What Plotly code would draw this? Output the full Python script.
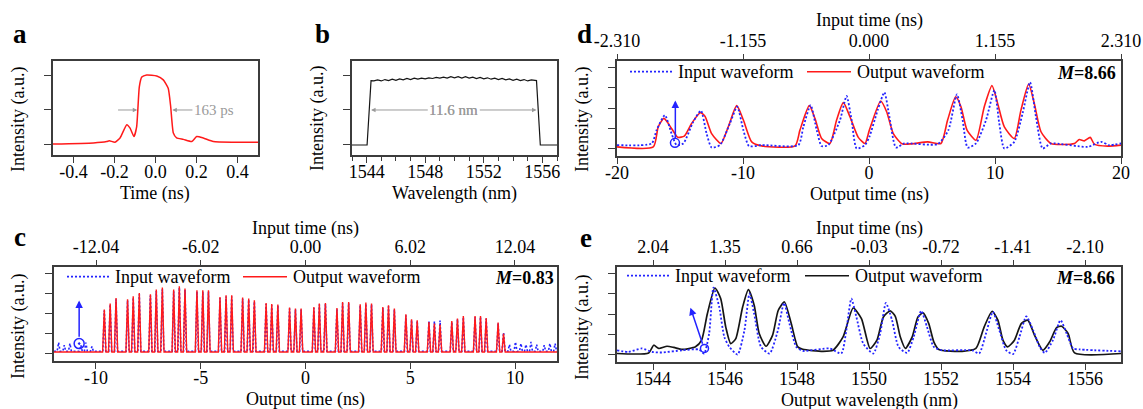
import plotly.graph_objects as go

W, H = 1143, 409
FONT = "Liberation Serif"
RED = "#ff1a1a"
BLUE = "#2323ff"
BLACK = "#151515"
FRAME = "#3c3c3c"
GRAY = "#9a9a9a"

# ---------------- data: panel a (output pulse) ----------------
a_time = [-0.5, -0.303, -0.238, -0.225, -0.198, -0.173, -0.14, -0.124, -0.105, -0.092,
          -0.079, -0.067, -0.043, 0.006, 0.038, 0.062, 0.074, 0.087, 0.103, 0.136,
          0.177, 0.201, 0.233, 0.282, 0.38, 0.5]
a_int = [0.014, 0.03, 0.05, 0.06, 0.04, 0.10, 0.29, 0.24, 0.12, 0.26,
         0.83, 0.97, 1.0, 0.986, 0.93, 0.81, 0.55, 0.17, 0.10, 0.08,
         0.05, 0.12, 0.10, 0.05, 0.04, 0.04]
a_xticks = [-0.4, -0.2, 0.0, 0.2, 0.4]
a_xlabels = ["-0.4", "-0.2", "0.0", "0.2", "0.4"]
a_fwhm_edges = [-0.089, 0.082]
a_fwhm_label = "163 ps"

# ---------------- data: panel b (spectrum) ----------------
b_wl = [1543.0, 1544.03, 1544.3,
        1544.5, 1544.75, 1545.0, 1545.25, 1545.5, 1545.75, 1546.0, 1546.25, 1546.5, 1546.75,
        1547.0, 1547.25, 1547.5, 1547.75, 1548.0, 1548.25, 1548.5, 1548.75, 1549.0, 1549.25,
        1549.5, 1549.75, 1550.0, 1550.25, 1550.5, 1550.75, 1551.0, 1551.25, 1551.5, 1551.75,
        1552.0, 1552.25, 1552.5, 1552.75, 1553.0, 1553.25, 1553.5, 1553.75, 1554.0, 1554.25,
        1554.5, 1554.75, 1555.0, 1555.25,
        1555.6, 1555.86, 1557.0]
b_int = [0.0, 0.0, 0.92,
         0.915, 0.93, 0.915, 0.935, 0.92, 0.94, 0.925, 0.945, 0.93, 0.95,
         0.935, 0.955, 0.94, 0.955, 0.945, 0.96, 0.95, 0.965, 0.955, 0.97,
         0.955, 0.975, 0.96, 0.975, 0.955, 0.975, 0.955, 0.97, 0.95, 0.965,
         0.945, 0.96, 0.94, 0.955, 0.935, 0.95, 0.93, 0.945, 0.925, 0.94,
         0.92, 0.935, 0.915, 0.93,
         0.92, 0.0, 0.0]
b_span = [1544.3, 1555.6]
b_span_label = "11.6 nm"

# ---------------- data: panel c (M = 0.83) ----------------
c_M = 0.83
c_out_peak_t = [-9.60, -9.32, -9.04, -8.49, -8.22, -7.93, -7.40, -7.12, -6.83, -6.29,
                -6.02, -5.75, -5.18, -4.90, -4.63, -4.08, -3.79, -3.52, -3.00, -2.71,
                -2.44, -1.88, -1.61, -1.32, -0.76, -0.48, -0.21, 0.40, 0.66, 0.95,
                1.50, 1.77, 2.06, 2.61, 2.88, 3.15, 3.69, 3.96, 4.24, 4.79,
                5.06, 5.33, 5.89, 6.15, 6.42, 6.98, 7.25, 7.53, 8.09, 8.35,
                8.62, 9.19, 9.45]
c_out_peak_v = [2.20, 2.50, 2.78, 2.72, 2.87, 3.03, 2.97, 3.20, 3.30, 3.20,
                3.37, 3.25, 3.17, 3.17, 3.17, 2.83, 2.92, 2.92, 2.80, 2.75,
                2.67, 2.53, 2.48, 2.45, 2.30, 2.25, 2.25, 2.33, 2.50, 2.53,
                2.28, 2.58, 2.58, 2.47, 2.55, 2.50, 2.33, 2.42, 2.25, 1.97,
                1.72, 1.67, 1.58, 1.50, 1.45, 1.63, 1.75, 1.88, 1.88, 1.88,
                1.78, 1.55, 1.00]
c_out_base = 0.08
c_in_peak_t = [-11.78, -11.51, -11.24, -10.72, -10.48, -10.19,
               -9.60, -9.32, -9.04, -8.49, -8.22, -7.93, -7.40, -7.12, -6.83, -6.29,
               -6.02, -5.75, -5.18, -4.90, -4.63, -4.08, -3.79, -3.52, -3.00, -2.71,
               -2.44, -1.88, -1.61, -1.32, -0.76, -0.48, -0.21, 0.40, 0.66, 0.95,
               1.50, 1.77, 2.06, 2.61, 2.88, 3.15, 3.69, 3.96, 4.24, 4.79,
               5.06, 5.33, 5.89, 6.15, 6.42, 6.98, 7.25, 7.53, 8.09, 8.35,
               8.62, 9.19, 9.45,
               9.73, 10.02, 10.28, 10.52, 10.76, 11.03, 11.39, 11.66, 11.91]
c_in_peak_v = [0.55, 0.42, 0.50, 0.42, 0.55, 0.35,
               2.15, 2.45, 2.72, 2.66, 2.80, 2.97, 2.90, 3.13, 3.22, 3.12,
               3.30, 3.18, 3.10, 3.10, 3.10, 2.78, 2.86, 2.86, 2.74, 2.70,
               2.60, 2.48, 2.42, 2.40, 2.25, 2.20, 2.20, 2.28, 2.45, 2.48,
               2.22, 2.52, 2.52, 2.42, 2.50, 2.45, 2.28, 2.36, 2.20, 1.92,
               1.68, 1.63, 1.62, 1.62, 1.65, 1.58, 1.72, 1.82, 1.83, 1.83,
               1.74, 1.52, 1.05,
               0.45, 0.58, 0.50, 0.45, 0.58, 0.45, 0.42, 0.50, 0.50]
c_in_base = 0.12
c_xticks = [-10, -5, 0, 5, 10]
c_xlabels = ["-10", "-5", "0", "5", "10"]
c_top_ticks = [-12.04, -6.02, 0.0, 6.02, 12.04]
c_top_labels = ["-12.04", "-6.02", "0.00", "6.02", "12.04"]
c_marker = [-10.8, 0.5]
c_arrow = [-10.8, 0.77, 2.66]

# ---------------- data: panel d (M = 8.66, time) ----------------
d_M = 8.66
d_out_t = [-20.0, -17.12, -16.73, -16.28, -15.93, -15.27, -15.14, -14.66, -14.08, -13.39,
           -13.02, -12.49, -11.75, -11.17, -10.50, -9.97, -9.31, -8.52, -5.87, -5.48,
           -4.74, -4.29, -3.76, -3.10, -2.57, -2.04, -1.51, -0.85, -0.32, 0.03,
           0.93, 1.40, 1.93, 2.67, 4.66, 5.71, 6.24, 6.88, 7.30, 7.78,
           8.49, 9.15, 9.76, 10.21, 10.74, 11.53, 12.06, 12.67, 13.12, 13.65,
           14.44, 16.30, 16.69, 17.09, 17.56, 17.88, 18.94, 20.0]
d_out_v = [0.08, 0.08, 1.07, 1.49, 1.24, 0.61, 0.55, 0.61, 1.24, 1.77,
           1.60, 0.74, 0.25, 1.07, 2.12, 1.41, 0.33, 0.13, 0.13, 0.91,
           2.12, 1.49, 0.50, 0.25, 1.41, 2.27, 1.57, 0.55, 0.25, 0.91,
           2.35, 1.82, 0.74, 0.22, 0.33, 0.25, 1.41, 2.56, 2.07, 0.91,
           0.41, 2.07, 3.11, 2.23, 1.07, 0.50, 1.90, 3.19, 2.23, 0.83,
           0.25, 0.25, 0.45, 0.38, 0.55, 0.22, 0.12, 0.17]
d_in_t = [-20.0, -17.25, -16.86, -16.20, -15.67, -15.27, -14.74, -13.95, -13.34, -12.89,
          -12.49, -11.83, -11.04, -10.46, -9.97, -9.52, -8.52, -5.61, -5.21, -4.63,
          -4.15, -3.76, -3.23, -2.30, -1.78, -1.38, -0.98, -0.32, 0.03, 0.69,
          1.22, 1.62, 2.14, 2.80, 5.45, 6.30, 6.98, 7.43, 7.83, 8.49,
          9.29, 9.95, 10.34, 10.74, 11.53, 12.19, 12.78, 13.25, 13.78, 14.44,
          17.35, 18.41, 19.07, 20.0]
d_in_v = [0.17, 0.25, 0.91, 1.65, 0.74, 0.17, 0.25, 1.32, 1.87, 0.74,
          0.05, 0.17, 1.24, 2.07, 0.91, 0.12, 0.17, 0.17, 1.07, 2.15,
          0.91, 0.12, 0.17, 1.41, 2.60, 1.41, 0.00, 0.17, 0.58, 1.90,
          2.78, 1.57, 0.05, 0.25, 0.22, 0.91, 2.68, 1.41, 0.05, 0.25,
          1.41, 2.89, 1.24, 0.00, 0.33, 1.74, 3.28, 1.57, 0.00, 0.25,
          0.08, 0.33, 0.17, 0.25]
d_xticks = [-20, -10, 0, 10, 20]
d_xlabels = ["-20", "-10", "0", "10", "20"]
d_top_ticks = [-2.310, -1.155, 0.0, 1.155, 2.310]
d_top_labels = ["-2.310", "-1.155", "0.000", "1.155", "2.310"]
d_marker = [-15.4, 0.28]
d_arrow = [-15.37, 0.45, 2.38]

# ---------------- data: panel e (M = 8.66, wavelength) ----------------
e_out_wl = [1543.0, 1543.88, 1544.02, 1544.16, 1544.39, 1544.58, 1544.81, 1545.18, 1545.35, 1545.51,
            1545.72, 1545.88, 1546.02, 1546.16, 1546.30, 1546.49, 1546.65, 1546.81, 1546.95, 1547.14,
            1547.32, 1547.48, 1547.65, 1547.84, 1548.02, 1548.16, 1548.72, 1549.00, 1549.28, 1549.56,
            1549.79, 1550.03, 1550.22, 1550.40, 1550.59, 1550.73, 1550.87, 1551.01, 1551.20, 1551.36,
            1551.50, 1551.66, 1551.80, 1551.94, 1552.59, 1552.97, 1553.20, 1553.42, 1553.58, 1553.72,
            1553.85, 1554.04, 1554.23, 1554.41, 1554.60, 1554.83, 1555.02, 1555.21, 1555.35, 1555.53,
            1555.71, 1557.0]
e_out_v = [0.05, 0.08, 0.46, 0.30, 0.41, 0.35, 0.25, 0.38, 0.71, 2.02,
           3.29, 2.77, 1.37, 0.54, 0.79, 2.35, 3.21, 2.44, 1.04, 0.41,
           0.95, 2.19, 2.60, 1.53, 0.38, 0.26, 0.16, 0.21, 0.87, 2.30,
           1.78, 0.30, 0.71, 1.86, 2.16, 1.89, 0.87, 0.30, 0.87, 1.86,
           2.06, 1.53, 0.63, 0.25, 0.16, 0.30, 1.37, 2.14, 1.70, 0.71,
           0.38, 0.71, 1.53, 1.70, 0.95, 0.21, 0.63, 1.33, 1.40, 1.04,
           0.08, 0.05]
e_in_wl = [1543.0, 1543.32, 1543.69, 1543.97, 1544.25, 1544.81, 1545.28, 1545.42, 1545.56, 1545.68,
           1545.84, 1545.98, 1546.12, 1546.35, 1546.54, 1546.68, 1546.81, 1547.00, 1547.24, 1547.47,
           1547.64, 1547.79, 1547.98, 1548.16, 1548.91, 1549.23, 1549.37, 1549.51, 1549.65, 1549.84,
           1550.12, 1550.31, 1550.47, 1550.64, 1550.82, 1551.06, 1551.24, 1551.45, 1551.61, 1551.80,
           1552.03, 1552.87, 1553.06, 1553.25, 1553.44, 1553.62, 1553.81, 1554.00, 1554.18, 1554.37,
           1554.56, 1554.74, 1554.88, 1555.11, 1555.32, 1555.49, 1555.67, 1555.86, 1557.0]
e_in_v = [0.21, 0.13, 0.30, 0.13, 0.10, 0.21, 0.25, 0.05, 1.04, 3.31,
          2.35, 0.87, 0.38, 0.00, 1.20, 3.01, 2.02, 0.38, 0.05, 1.20,
          2.55, 1.53, 0.38, 0.18, 0.30, 0.05, 1.20, 2.77, 1.86, 0.54,
          0.05, 1.04, 2.55, 1.70, 0.38, 0.08, 0.87, 2.16, 1.37, 0.38,
          0.21, 0.21, 0.05, 1.04, 2.11, 1.20, 0.21, 0.02, 0.87, 1.89,
          1.20, 0.38, 0.08, 0.71, 1.70, 1.04, 0.30, 0.25, 0.16]
e_xticks = [1544, 1546, 1548, 1550, 1552, 1554, 1556]
e_top_labels = ["2.04", "1.35", "0.66", "-0.03", "-0.72", "-1.41", "-2.10"]
e_marker = [1545.43, 0.3]
e_arrow = [1545.39, 0.46, 1545.04, 2.32]

legend_labels = ["Input waveform", "Output waveform"]
wave_yticks = [0, 1, 2, 3, 4]
ab_yticks = [0, 0.5, 1.0]

DOT = "2px,2px"


# ---------------- helpers ----------------
def spikes(times, heights, base, lo, hi, hw=0.08):
    xs, ys = [lo], [base]
    for t, h in zip(times, heights):
        xs += [t - hw, t, t + hw]
        ys += [base, h, base]
    xs.append(hi)
    ys.append(base)
    return xs, ys


def px(p):
    return p / W


def py(p):
    return 1 - p / H


fig = go.Figure()


def add_line(x, y, xa, ya, color, width, dash="solid", shape="linear", smoothing=None):
    line = dict(color=color, width=width, dash=dash, shape=shape)
    if smoothing is not None:
        line["smoothing"] = smoothing
    fig.add_trace(go.Scatter(x=x, y=y, xaxis=xa, yaxis=ya, mode="lines", line=line,
                             showlegend=False, hoverinfo="skip"))


def add_marker(pt, xa, ya, symbol, size):
    fig.add_trace(go.Scatter(x=[pt[0]], y=[pt[1]], xaxis=xa, yaxis=ya, mode="markers",
                             marker=dict(symbol=symbol, size=size, color=BLUE,
                                         line=dict(color=BLUE, width=1.5)),
                             showlegend=False, hoverinfo="skip"))


# panel a
add_line(a_time, a_int, "x", "y", RED, 1.5, shape="spline", smoothing=0.5)
# panel b
add_line(b_wl, b_int, "x2", "y2", BLACK, 1.2)
# panel d
add_line(d_out_t, d_out_v, "x3", "y3", RED, 1.6, shape="spline", smoothing=0.6)
add_line(d_in_t, d_in_v, "x3", "y3", BLUE, 1.8, dash=DOT, shape="spline", smoothing=0.6)
add_marker(d_marker, "x3", "y3", "circle-open", 9)
fig.add_trace(go.Scatter(x=[d_top_ticks[0], d_top_ticks[-1]], y=[None, None], xaxis="x4", yaxis="y3",
                         mode="lines", showlegend=False, hoverinfo="skip"))
# panel c
cx2, cy2 = spikes(c_in_peak_t, c_in_peak_v, c_in_base, -12, 12, hw=0.07)
add_line(cx2, cy2, "x5", "y5", BLUE, 1.6, dash=DOT)
cx, cy = spikes(c_out_peak_t, c_out_peak_v, c_out_base, -12, 12)
add_line(cx, cy, "x5", "y5", RED, 1.4)
add_marker(c_marker, "x5", "y5", "circle-open-dot", 10)
fig.add_trace(go.Scatter(x=[-12 / c_M, 12 / c_M], y=[None, None], xaxis="x6", yaxis="y5",
                         mode="lines", showlegend=False, hoverinfo="skip"))
# panel e
add_line(e_out_wl, e_out_v, "x7", "y7", BLACK, 1.7, shape="spline", smoothing=0.6)
add_line(e_in_wl, e_in_v, "x7", "y7", BLUE, 1.8, dash=DOT, shape="spline", smoothing=0.6)
add_marker(e_marker, "x7", "y7", "circle-open", 8)
fig.add_trace(go.Scatter(x=[1543, 1557], y=[None, None], xaxis="x8", yaxis="y7",
                         mode="lines", showlegend=False, hoverinfo="skip"))

tickfont = dict(family=FONT, size=18, color="black")
WAVE_YR = [-0.37, 4.33]
AB_YR = [-0.143, 1.2]


def bottom_axis(left, right, rng, anchor, tickvals=None, ticktext=None, **kw):
    d = dict(domain=[px(left), px(right)], range=rng, anchor=anchor, showline=True, mirror=True,
             linecolor=FRAME, linewidth=1.5, ticks="outside", ticklen=6, tickwidth=1.3,
             tickcolor=FRAME, tickfont=tickfont, showgrid=False, zeroline=False, automargin=False,
             ticklabelstandoff=-6)
    if tickvals is not None:
        d.update(tickmode="array", tickvals=tickvals, ticktext=ticktext)
    d.update(kw)
    return d


def left_axis(top, bottom, rng, anchor, tickvals):
    return dict(domain=[py(bottom), py(top)], range=rng, anchor=anchor, showline=True, mirror=True,
                linecolor=FRAME, linewidth=1.5, ticks="outside", ticklen=7, tickwidth=1.3,
                tickcolor=FRAME, tickmode="array", tickvals=tickvals, showticklabels=False,
                showgrid=False, zeroline=False, automargin=False)


def top_axis(over, anchor, rng, tickvals, ticktext):
    return dict(overlaying=over, side="top", anchor=anchor, range=rng, ticks="outside",
                ticklen=6, tickwidth=1.3, tickcolor=FRAME, tickmode="array", tickvals=tickvals,
                ticktext=ticktext, tickfont=tickfont, showline=False, showgrid=False,
                zeroline=False, automargin=False)


layout = dict(
    template="none",
    width=W, height=H, margin=dict(l=0, r=0, t=0, b=0, autoexpand=False), paper_bgcolor="white",
    plot_bgcolor="rgba(0,0,0,0)", showlegend=False, font=dict(family=FONT, size=18, color="black"),
    xaxis=bottom_axis(53, 258, [-0.5, 0.5], "y", a_xticks, a_xlabels),
    yaxis=left_axis(61, 155, AB_YR, "x", ab_yticks),
    xaxis2=bottom_axis(352, 557, [1543, 1557], "y2", tickmode="linear", tick0=1544, dtick=4,
                       minor=dict(tickmode="linear", tick0=1543, dtick=1, ticks="outside",
                                  ticklen=4, tickwidth=1, tickcolor=FRAME)),
    yaxis2=left_axis(61, 155, AB_YR, "x2", ab_yticks),
    xaxis3=bottom_axis(617, 1121, [-20, 20], "y3", d_xticks, d_xlabels),
    yaxis3=left_axis(61, 156, WAVE_YR, "x3", wave_yticks),
    xaxis4=top_axis("x3", "y3", [d_top_ticks[0], d_top_ticks[-1]], d_top_ticks, d_top_labels),
    xaxis5=bottom_axis(54, 557, [-12, 12], "y5", c_xticks, c_xlabels),
    yaxis5=left_axis(267, 361, WAVE_YR, "x5", wave_yticks),
    xaxis6=top_axis("x5", "y5", [-12 / c_M, 12 / c_M], c_top_ticks, c_top_labels),
    xaxis7=bottom_axis(617, 1121, [1543, 1557], "y7", e_xticks, [str(v) for v in e_xticks]),
    yaxis7=left_axis(267, 362, WAVE_YR, "x7", wave_yticks),
    xaxis8=top_axis("x7", "y7", [1543, 1557], e_xticks, e_top_labels),
)
fig.update_layout(**layout)

ann = []
shapes = []


def text(x, y, s, size=18, color="black", xanchor="center", angle=0, bold=False):
    ann.append(dict(x=px(x), y=py(y), xref="paper", yref="paper", text=("<b>%s</b>" % s) if bold else s,
                    showarrow=False, xanchor=xanchor, yanchor="middle", textangle=angle,
                    font=dict(family=FONT, size=size, color=color)))


# panel letters
for letter, x, y in [("a", 20, 34), ("b", 322, 34), ("d", 584, 34), ("c", 20, 237), ("e", 586, 238)]:
    text(x, y, letter, size=27, bold=True)

# axis titles
for x, y in [(18, 120), (318, 119), (582, 120), (18, 327), (582, 328)]:
    text(x, y, "Intensity (a.u.)", angle=-90)
text(155.5, 193, "Time (ns)")
text(454.5, 193, "Wavelength (nm)")
text(869, 194, "Output time (ns)")
text(869, 20, "Input time (ns)")
text(305.5, 399, "Output time (ns)")
text(305.5, 228, "Input time (ns)")
text(869, 400, "Output wavelength (nm)")
text(869, 228, "Input time (ns)")

# legends
for x0, yl, x_red, color in [(67, 276.7, 243, RED), (630, 71.7, 807, RED), (627, 275.7, 805, BLACK)]:
    shapes.append(dict(type="line", xref="paper", yref="paper", x0=px(x0), x1=px(x0 + 42),
                       y0=py(yl), y1=py(yl), line=dict(color=BLUE, width=1.8, dash=DOT)))
    text(x0 + 46, yl, legend_labels[0], xanchor="left")
    shapes.append(dict(type="line", xref="paper", yref="paper", x0=px(x_red), x1=px(x_red + 44),
                       y0=py(yl), y1=py(yl), line=dict(color=color, width=1.5)))
    text(x_red + 48, yl, legend_labels[1], xanchor="left")

# M labels
for xr, y, m in [(555.5, 277.5, c_M), (1118, 73, d_M), (1117, 278, d_M)]:
    text(xr, y, "<b><i>M</i>=%.2f</b>" % m, xanchor="right")

# gray FWHM annotations
gfont = dict(family=FONT, size=15, color=GRAY)
ann.append(dict(x=a_fwhm_edges[0], y=0.5, ax=-0.19, ay=0.5, xref="x", yref="y", axref="x", ayref="y",
                text="", showarrow=True, arrowhead=2, arrowsize=0.9, arrowwidth=1, arrowcolor=GRAY))
ann.append(dict(x=a_fwhm_edges[1], y=0.5, ax=0.285, ay=0.5, xref="x", yref="y", axref="x", ayref="y",
                text=a_fwhm_label, font=gfont, showarrow=True, arrowhead=2, arrowsize=0.9,
                arrowwidth=1, arrowcolor=GRAY))
for edge in b_span:
    ann.append(dict(x=edge, y=0.5, ax=(b_span[0] + b_span[1]) / 2, ay=0.5, xref="x2", yref="y2",
                    axref="x2", ayref="y2", text=b_span_label, font=gfont, showarrow=True,
                    arrowhead=2, arrowsize=0.9, arrowwidth=1, arrowcolor=GRAY))

# blue arrows
ann.append(dict(x=c_arrow[0], y=c_arrow[2], ax=c_arrow[0], ay=c_arrow[1], xref="x5", yref="y5",
                axref="x5", ayref="y5", text="", showarrow=True, arrowhead=2, arrowsize=1,
                arrowwidth=1.5, arrowcolor=BLUE))
ann.append(dict(x=d_arrow[0], y=d_arrow[2], ax=d_arrow[0], ay=d_arrow[1], xref="x3", yref="y3",
                axref="x3", ayref="y3", text="", showarrow=True, arrowhead=2, arrowsize=1,
                arrowwidth=1.5, arrowcolor=BLUE))
ann.append(dict(x=e_arrow[2], y=e_arrow[3], ax=e_arrow[0], ay=e_arrow[1], xref="x7", yref="y7",
                axref="x7", ayref="y7", text="", showarrow=True, arrowhead=2, arrowsize=1,
                arrowwidth=1.5, arrowcolor=BLUE))

fig.update_layout(annotations=ann, shapes=shapes)
fig.write_html("out.html", config={"displayModeBar": False},
               post_script="document.body.style.margin='0px';")
